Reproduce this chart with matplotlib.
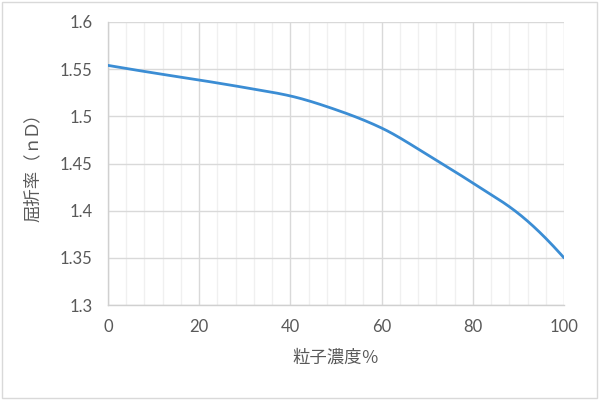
import matplotlib
matplotlib.use("Agg")
import matplotlib.pyplot as plt
from matplotlib.ticker import MultipleLocator
from matplotlib.patches import Rectangle
import numpy as np

plt.rcParams['font.family'] = ['Lato', 'Noto Sans CJK JP', 'DejaVu Sans']

concentration = [0, 10, 20, 30, 40, 50, 60, 70, 80, 90, 100]
refractive_index = [1.554, 1.546, 1.5385, 1.5305, 1.5216, 1.507, 1.4876, 1.4595, 1.4293, 1.397, 1.350]

xlabel = "粒子濃度％"
ylabel = "屈折率（ｎD）"

fig = plt.figure(figsize=(6, 4), dpi=100)
fig.patches.append(Rectangle((0.004, 0.006), 0.991, 0.988, transform=fig.transFigure,
                             fill=False, edgecolor='#d9d9d9', linewidth=1.0))
ax = fig.add_axes([0.18, 0.2375, 0.76, 0.7075])

xs = np.array(concentration, dtype=float)
ys = np.array(refractive_index, dtype=float)
try:
    from scipy.interpolate import PchipInterpolator
    xf = np.linspace(0, 100, 300)
    yf = PchipInterpolator(xs, ys)(xf)
except Exception:
    xf, yf = xs, ys
ax.plot(xf, yf, color='#3b8dd4', linewidth=2.0, solid_capstyle='round', zorder=3)

ax.set_xlim(0, 100)
ax.set_ylim(1.3, 1.6)
ax.xaxis.set_minor_locator(MultipleLocator(4))
ax.set_yticks([1.3, 1.35, 1.4, 1.45, 1.5, 1.55, 1.6])
ax.set_yticklabels(['1.3', '1.35', '1.4', '1.45', '1.5', '1.55', '1.6'])
ax.set_xticks([0, 20, 40, 60, 80, 100])
ax.set_xticklabels(['0', '20', '40', '60', '80', '100'])

ax.grid(which='major', color='#d9d9d9', linewidth=1.0)
ax.grid(which='minor', axis='x', color='#f0f0f0', linewidth=1.0)
ax.set_axisbelow(True)
for side in ['top', 'right']:
    ax.spines[side].set_visible(False)
for side in ['left', 'bottom']:
    ax.spines[side].set_color('#d0d0d0')
    ax.spines[side].set_linewidth(1.0)
ax.tick_params(which='both', length=0, colors='#595959', labelsize=12)
ax.tick_params(axis='y', pad=11)
ax.tick_params(axis='x', pad=10)

ax.set_xlabel(xlabel, fontsize=12.5, color='#595959', labelpad=10)
ax.set_ylabel(ylabel, fontsize=12.5, color='#595959', labelpad=14)

fig.savefig('out.png', dpi=100)
